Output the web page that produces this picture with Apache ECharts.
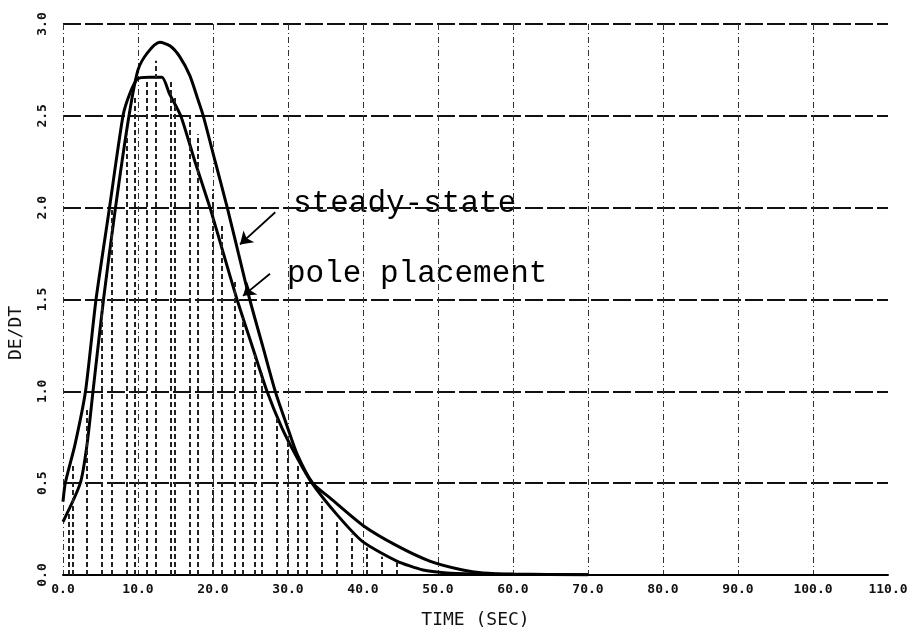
<!DOCTYPE html>
<html>
<head>
<meta charset="utf-8">
<script src="https://cdn.jsdelivr.net/npm/echarts@6/dist/echarts.min.js"></script>
<style>
  html, body { margin: 0; background: #fff; }
  #chart { width: 916px; height: 634px; }
</style>
</head>
<body>
<div id="chart"></div>
<script>
// pole placement curve (flat top)
const ppTime  = [0, 0.3, 1.6, 3.0, 4.4, 6.2, 8.0, 8.9, 9.9, 11.5, 13.2, 14.2, 15.7, 17.6, 19.6, 21.4, 23.2, 25.2, 27.2, 29.2, 31.2, 33.2, 36.5, 40.0, 44.5, 48.0, 51.2, 55.0, 60.0, 70.0];
const ppValue = [0.40, 0.50, 0.71, 1.00, 1.50, 2.00, 2.50, 2.62, 2.70, 2.71, 2.71, 2.62, 2.50, 2.25, 2.00, 1.75, 1.50, 1.25, 1.00, 0.80, 0.64, 0.50, 0.33, 0.18, 0.076, 0.027, 0.011, 0.006, 0.003, 0.002];

// steady-state curve (taller peak)
const ssTime  = [0, 2.3, 3.2, 4.0, 5.4, 7.0, 8.8, 10.0, 11.2, 12.9, 14.3, 15.6, 16.9, 17.9, 18.7, 20.3, 21.9, 23.4, 24.9, 26.6, 28.3, 29.8, 31.2, 33.3, 35.6, 40.0, 44.5, 48.9, 53.3, 56.0, 60.0, 70.0];
const ssValue = [0.29, 0.50, 0.71, 1.00, 1.50, 2.00, 2.50, 2.75, 2.84, 2.90, 2.88, 2.82, 2.72, 2.60, 2.50, 2.25, 2.00, 1.75, 1.50, 1.25, 1.00, 0.82, 0.66, 0.50, 0.42, 0.27, 0.16, 0.076, 0.027, 0.011, 0.005, 0.002];

// plotter drop lines under the curves
const hatchTime   = [0.7, 1.3, 3.2, 5.2, 6.5, 8.5, 9.6, 11.2, 12.3, 14.3, 14.9, 16.9, 17.9, 20.0, 21.2, 22.9, 24.0, 25.6, 26.5, 28.5, 29.9, 31.3, 32.5, 34.5, 36.5, 38.5, 40.5, 42.5, 44.5];
const hatchHeight = [0.35, 0.6, 0.9, 1.5, 2.0, 2.4, 2.6, 2.7, 2.8, 2.7, 2.6, 2.5, 2.4, 2.1, 1.9, 1.6, 1.4, 1.2, 1.1, 0.85, 0.75, 0.6, 0.5, 0.4, 0.3, 0.22, 0.15, 0.1, 0.07];

const xTickLabels = ['0.0', '10.0', '20.0', '30.0', '40.0', '50.0', '60.0', '70.0', '80.0', '90.0', '100.0', '110.0'];
const yTickLabels = ['0.0', '0.5', '1.0', '1.5', '2.0', '2.5', '3.0'];

const chart = echarts.init(document.getElementById('chart'));

const curveStyle = { color: '#000', width: 3 };
const monoFont = 'DejaVu Sans Mono';

chart.setOption({
  animation: false,
  backgroundColor: '#fff',
  grid: { left: 63, right: 28, top: 24, bottom: 57 },
  xAxis: {
    type: 'value',
    min: 0,
    max: 110,
    interval: 10,
    name: 'TIME (SEC)',
    nameLocation: 'middle',
    nameGap: 36,
    nameTextStyle: { fontFamily: monoFont, fontSize: 18, color: '#111' },
    axisLine: { lineStyle: { color: '#000', width: 2 } },
    axisTick: { show: false },
    axisLabel: {
      margin: 8,
      fontFamily: monoFont,
      fontWeight: 'bold',
      fontSize: 13,
      color: '#111',
      formatter: v => xTickLabels[Math.round(v / 10)]
    },
    splitLine: {
      show: true,
      showMaxLine: false,
      lineStyle: { color: '#333', width: 1, type: [6, 3, 1, 3] }
    }
  },
  yAxis: {
    type: 'value',
    min: 0,
    max: 3,
    interval: 0.5,
    axisLine: { show: false },
    axisTick: { show: false },
    axisLabel: {
      rotate: 90,
      margin: 14,
      fontFamily: monoFont,
      fontWeight: 'bold',
      fontSize: 13,
      color: '#111',
      formatter: v => yTickLabels[Math.round(v * 2)]
    },
    splitLine: {
      show: true,
      lineStyle: { color: '#111', width: 1.8, type: [18, 4] }
    }
  },
  graphic: [
    {
      type: 'text', x: 16, y: 333, rotation: Math.PI / 2,
      style: { text: 'DE/DT', font: '18px ' + monoFont, fill: '#111', align: 'center', verticalAlign: 'middle' }
    },
    {
      type: 'text', x: 293, y: 204,
      style: { text: 'steady-state', font: '31px "Liberation Mono"', fill: '#000', align: 'left', verticalAlign: 'middle' }
    },
    {
      type: 'text', x: 287, y: 274,
      style: { text: 'pole placement', font: '31px "Liberation Mono"', fill: '#000', align: 'left', verticalAlign: 'middle' }
    }
  ],
  series: [
    {
      name: 'hatch',
      type: 'line',
      data: [],
      silent: true,
      markLine: {
        silent: true,
        symbol: ['none', 'none'],
        label: { show: false },
        lineStyle: { color: '#222', width: 2, type: [5, 3] },
        data: hatchTime.map((t, i) => [{ coord: [t, 0] }, { coord: [t, hatchHeight[i]] }])
      }
    },
    {
      name: 'steady-state',
      type: 'line',
      data: ssTime.map((t, i) => [t, ssValue[i]]),
      smooth: 0.25,
      showSymbol: false,
      lineStyle: curveStyle,
      markLine: {
        silent: true,
        symbol: ['none', 'arrow'],
        symbolSize: 12,
        label: { show: false },
        lineStyle: { color: '#000', width: 1.8, type: 'solid' },
        data: [[{ coord: [28.3, 1.975] }, { coord: [23.6, 1.80] }]]
      }
    },
    {
      name: 'pole placement',
      type: 'line',
      data: ppTime.map((t, i) => [t, ppValue[i]]),
      smooth: 0.2,
      showSymbol: false,
      lineStyle: curveStyle,
      markLine: {
        silent: true,
        symbol: ['none', 'arrow'],
        symbolSize: 12,
        label: { show: false },
        lineStyle: { color: '#000', width: 1.8, type: 'solid' },
        data: [[{ coord: [27.6, 1.64] }, { coord: [24.0, 1.52] }]]
      }
    }
  ]
});
</script>
</body>
</html>
